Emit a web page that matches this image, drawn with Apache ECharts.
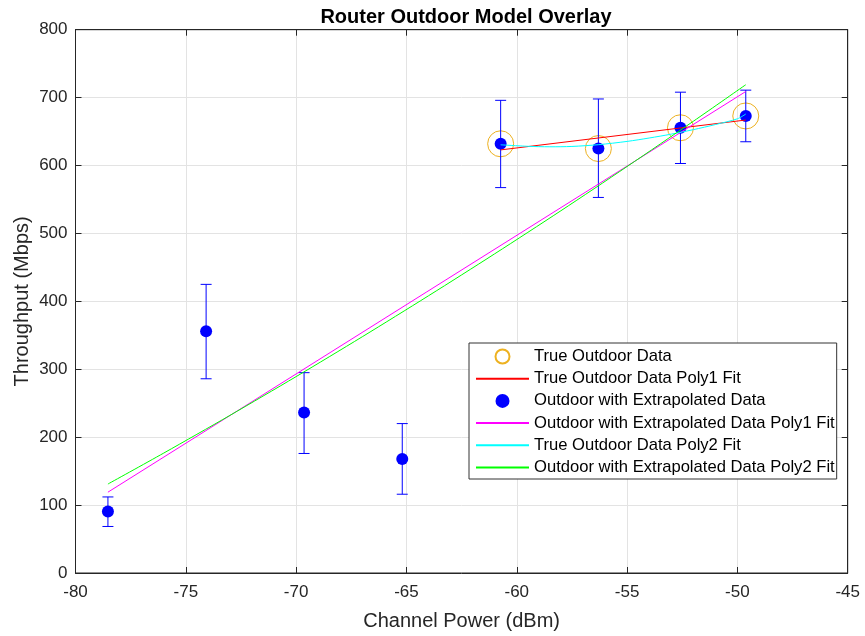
<!DOCTYPE html>
<html>
<head>
<meta charset="utf-8">
<script src="https://cdn.jsdelivr.net/npm/echarts@6/dist/echarts.min.js"></script>
<style>
html,body{margin:0;padding:0;background:#fff;}
#chart{width:865px;height:636px;}
</style>
</head>
<body>
<div id="chart"></div>
<script>
// ---- data ----
const titleText = "Router Outdoor Model Overlay";
const xAxisName = "Channel Power (dBm)";
const yAxisName = "Throughput (Mbps)";

const seriesNames = [
  "True Outdoor Data",
  "True Outdoor Data Poly1 Fit",
  "Outdoor with Extrapolated Data",
  "Outdoor with Extrapolated Data Poly1 Fit",
  "True Outdoor Data Poly2 Fit",
  "Outdoor with Extrapolated Data Poly2 Fit"
];

// all points (extrapolated + true)
const extX    = [-78.53, -74.08, -69.64, -65.19, -60.73, -56.30, -52.58, -49.62];
const extY    = [90.5, 356, 236.5, 168, 632, 625, 655.6, 673];
const extLow  = [68.5, 286, 176, 116, 567.5, 553, 603, 635];
const extHigh = [112, 425, 295, 220, 696, 698, 708, 711];

// true outdoor measured points
const trueX = [-60.73, -56.30, -52.58, -49.62];
const trueY = [632, 625, 655.6, 673];

// fit curves
const poly1TrueX = [-60.73, -49.62];
const poly1TrueY = [623, 667];

const poly1ExtX = [-78.53, -49.62];
const poly1ExtY = [119, 709];

const poly2TrueX = [-60.73, -59.5, -58.5, -57.5, -56.3, -55, -54, -53, -52, -51, -50, -49.62];
const poly2TrueY = [630.5, 628.3, 627.6, 628.1, 630.7, 635.5, 640.5, 646.2, 652.8, 660.3, 668.8, 675.8];

const poly2ExtX = [-78.53, -76, -73, -70, -67, -64, -61, -58, -55, -52, -49.62];
const poly2ExtY = [131, 176.6, 232.1, 289.2, 347.9, 408.2, 470.0, 533.4, 598.5, 665.1, 719];

const xTicks = {min: -80, max: -45, step: 5};
const yTicks = {min: 0, max: 800, step: 100};

function zip(a, b) { return a.map((v, i) => [v, b[i]]); }

const chart = echarts.init(document.getElementById('chart'), null, {renderer: 'canvas'});
const txt = '#262626';
const font = "Liberation Sans, Arial, Helvetica, sans-serif";

const errData = extX.map((x, i) => [x, extLow[i], extHigh[i]]);

const lineLegend = (n) => ({name: n, itemStyle: {opacity: 0}});

const option = {
  backgroundColor: '#ffffff',
  animation: false,
  title: {
    text: titleText,
    left: 461, top: 2, textAlign: 'center',
    textStyle: {fontFamily: font, fontSize: 20, fontWeight: 'bold', color: '#000'}
  },
  grid: {left: 75.5, right: 17.3, top: 29.7, bottom: 61.7, containLabel: false,
         show: true, borderColor: txt, borderWidth: 1},
  legend: {
    orient: 'vertical',
    left: 469, top: 343,
    padding: [5, 2, 3, 6],
    itemWidth: 53, itemHeight: 14, itemGap: 5.2,
    borderColor: '#333', borderWidth: 1, backgroundColor: '#fff',
    textStyle: {fontFamily: font, fontSize: 16.6, lineHeight: 16, color: '#000', padding: [0, 0, 0, 0]},
    data: [
      seriesNames[0],
      lineLegend(seriesNames[1]),
      seriesNames[2],
      lineLegend(seriesNames[3]),
      lineLegend(seriesNames[4]),
      lineLegend(seriesNames[5])
    ]
  },
  xAxis: [{
    type: 'value', min: xTicks.min, max: xTicks.max, interval: xTicks.step,
    name: xAxisName, nameLocation: 'middle', nameGap: 38, nameMoveOverlap: false,
    nameTextStyle: {fontFamily: font, fontSize: 20, color: txt},
    axisLine: {onZero: false, lineStyle: {color: txt}},
    axisTick: {inside: true, length: 6, lineStyle: {color: txt}},
    axisLabel: {fontFamily: font, fontSize: 17, color: txt, margin: 11},
    splitLine: {show: true, lineStyle: {color: '#e3e3e3'}}
  }, {
    type: 'value', position: 'top', min: xTicks.min, max: xTicks.max, interval: xTicks.step,
    axisLine: {onZero: false, lineStyle: {color: txt}},
    axisTick: {inside: true, length: 6, lineStyle: {color: txt}},
    axisLabel: {show: false}, splitLine: {show: false}
  }],
  yAxis: [{
    type: 'value', min: yTicks.min, max: yTicks.max, interval: yTicks.step,
    name: yAxisName, nameLocation: 'middle', nameGap: 43.5, nameMoveOverlap: false,
    nameTextStyle: {fontFamily: font, fontSize: 20, color: txt},
    axisLine: {show: true, onZero: false, lineStyle: {color: txt}},
    axisTick: {show: true, inside: true, length: 6, lineStyle: {color: txt}},
    axisLabel: {fontFamily: font, fontSize: 17, color: txt, margin: 8},
    splitLine: {show: true, lineStyle: {color: '#e3e3e3'}}
  }, {
    type: 'value', position: 'right', min: yTicks.min, max: yTicks.max, interval: yTicks.step,
    axisLine: {show: true, onZero: false, lineStyle: {color: txt}},
    axisTick: {show: true, inside: true, length: 6, lineStyle: {color: txt}},
    axisLabel: {show: false}, splitLine: {show: false}
  }],
  series: [
    {
      name: seriesNames[0], type: 'scatter', symbol: 'circle', symbolSize: 26,
      itemStyle: {color: 'rgba(255,255,255,0)', borderColor: '#EDB120', borderWidth: 1, opacity: 1},
      data: zip(trueX, trueY), z: 2
    },
    {
      name: 'errorbars', type: 'custom',
      renderItem: function (params, api) {
        const x = api.value(0);
        const lo = api.coord([x, api.value(1)]);
        const hi = api.coord([x, api.value(2)]);
        const hw = 5.5;
        const st = {stroke: '#0000FF', lineWidth: 1};
        return {
          type: 'group',
          children: [
            {type: 'line', shape: {x1: lo[0], y1: lo[1], x2: hi[0], y2: hi[1]}, style: st},
            {type: 'line', shape: {x1: lo[0] - hw, y1: lo[1], x2: lo[0] + hw, y2: lo[1]}, style: st},
            {type: 'line', shape: {x1: hi[0] - hw, y1: hi[1], x2: hi[0] + hw, y2: hi[1]}, style: st}
          ]
        };
      },
      encode: {x: 0, y: [1, 2]},
      data: errData, z: 3
    },
    {
      name: seriesNames[2], type: 'scatter', symbol: 'circle', symbolSize: 12,
      itemStyle: {color: '#0000FF', opacity: 1},
      data: zip(extX, extY), z: 4
    },
    {
      name: seriesNames[1], type: 'line', symbol: 'none', showSymbol: false,
      lineStyle: {color: '#FF0000', width: 1}, itemStyle: {color: '#FF0000'},
      data: zip(poly1TrueX, poly1TrueY), z: 5
    },
    {
      name: seriesNames[3], type: 'line', symbol: 'none', showSymbol: false,
      lineStyle: {color: '#FF00FF', width: 1}, itemStyle: {color: '#FF00FF'},
      data: zip(poly1ExtX, poly1ExtY), z: 5
    },
    {
      name: seriesNames[4], type: 'line', symbol: 'none', showSymbol: false, smooth: 0.3,
      lineStyle: {color: '#00FFFF', width: 1}, itemStyle: {color: '#00FFFF'},
      data: zip(poly2TrueX, poly2TrueY), z: 5
    },
    {
      name: seriesNames[5], type: 'line', symbol: 'none', showSymbol: false, smooth: 0.3,
      lineStyle: {color: '#00FF00', width: 1}, itemStyle: {color: '#00FF00'},
      data: zip(poly2ExtX, poly2ExtY), z: 5
    }
  ]
};
chart.setOption(option);
</script>
</body>
</html>
